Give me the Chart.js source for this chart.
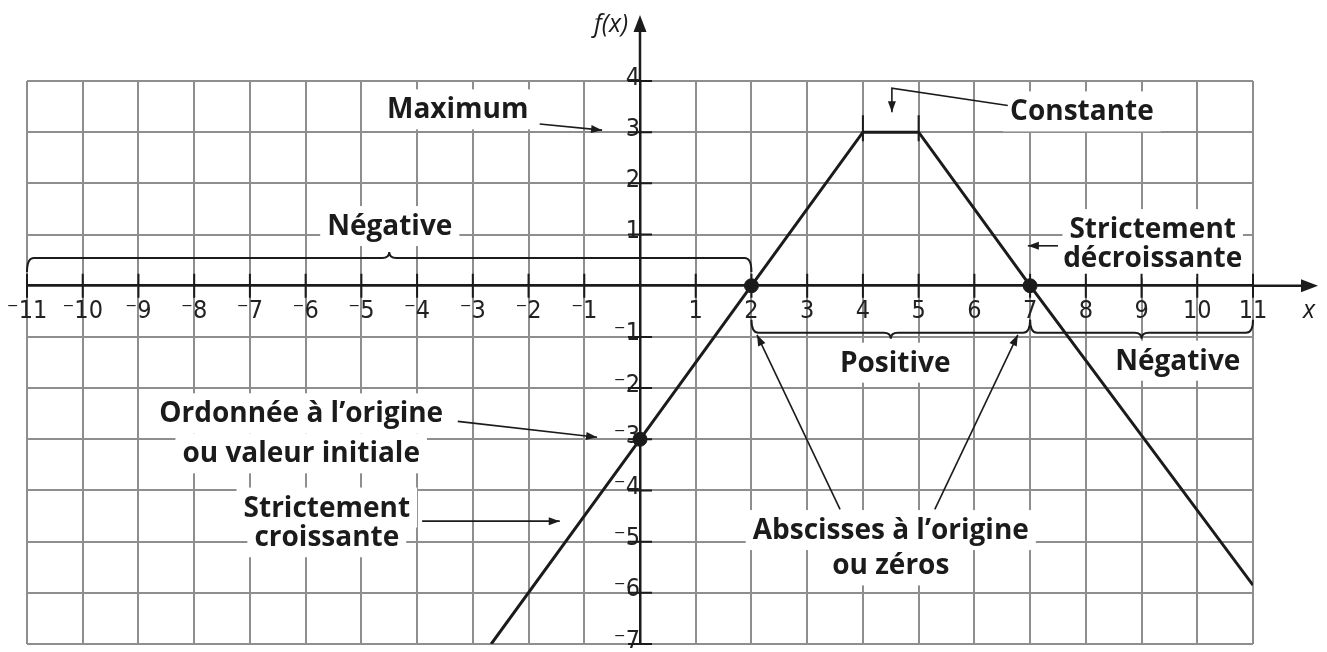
<!DOCTYPE html>
<html lang="fr">
<head>
<meta charset="utf-8">
<title>Propriétés d'une fonction</title>
<script src="https://cdn.jsdelivr.net/npm/chart.js@4.4.1/dist/chart.umd.min.js"></script>
<style>
    html, body { margin: 0; padding: 0; background: #fff; }
    #wrap { position: relative; width: 1327px; height: 652px; }
</style>
</head>
<body>
<div id="wrap"><canvas id="chart"></canvas></div>
<script>
// courbe de f (sommets)
const curveX = [-2.67, 0, 2, 4, 5, 7, 11];
const curveY = [-7, -3, 0, 3, 3, 0, -5.85];

// ordonnée à l'origine et zéros
const markX = [0, 2, 7];
const markY = [-3, 0, 0];

// bornes des axes, graduation de 1 en 1
const xMin = -11;
const xMax = 11;
const yMin = -7;
const yMax = 4;

const ink = "#1b1b1b";
const gridColor = "#8e8e8e";
const tickFamily = "'Liberation Sans Narrow', 'DejaVu Sans Condensed', Roboto, sans-serif";
const noteFont = "bold 28px 'Open Sans', sans-serif";

// étiquettes, placées en coordonnées du graphique (x centre, y ligne de base)
const notes = [
    { lines: ["Maximum"], x: -3.27, y: [3.27] },
    { lines: ["Constante"], x: 7.93, y: [3.23] },
    { lines: ["Négative"], x: -4.49, y: [0.99] },
    { lines: ["Strictement", "décroissante"], x: 9.2, y: [0.93, 0.37] },
    { lines: ["Positive"], x: 4.58, y: [-1.68] },
    { lines: ["Négative"], x: 9.65, y: [-1.64] },
    { lines: ["Ordonnée à l’origine", "ou valeur initiale"], x: -6.08, y: [-2.67, -3.45] },
    { lines: ["Strictement", "croissante"], x: -5.62, y: [-4.51, -5.09] },
    { lines: ["Abscisses à l’origine", "ou zéros"], x: 4.5, y: [-4.95, -5.64] },
];

const arrows = [
    [[-1.80, 3.16], [-0.68, 3.04]],
    [[6.60, 3.52], [4.52, 3.86], [4.52, 3.39]],
    [[7.50, 0.78], [6.96, 0.78]],
    [[-3.27, -2.65], [-0.77, -2.96]],
    [[-3.91, -4.6], [-1.44, -4.6]],
    [[3.59, -4.37], [2.10, -0.96]],
    [[5.29, -4.37], [6.78, -0.96]],
];

// accolades: de, à, pointe, hauteur, sens des crochets (vers l'axe)
const braces = [
    { from: -11, to: 2, mid: -4.5, y: 0.54, hook: 14 },
    { from: 2, to: 7, mid: 4.5, y: -0.92, hook: -13 },
    { from: 7, to: 11, mid: 9, y: -0.92, hook: -13 },
];

function tickLabel(value) {
    if (value === 0) {
        return "";
    }
    return value < 0 ? "\u207B" + Math.abs(value) : String(value);
}

function noPadding(scale) {
    scale.paddingTop = 0;
    scale.paddingBottom = 0;
    scale.paddingLeft = 0;
    scale.paddingRight = 0;
}

function pos(chart, x, y) {
    return [chart.scales.x.getPixelForValue(x), chart.scales.y.getPixelForValue(y)];
}

function arrowHead(ctx, from, to, len, half) {
    const a = Math.atan2(to[1] - from[1], to[0] - from[0]);
    ctx.beginPath();
    ctx.moveTo(to[0], to[1]);
    ctx.lineTo(to[0] - len * Math.cos(a) + half * Math.sin(a), to[1] - len * Math.sin(a) - half * Math.cos(a));
    ctx.lineTo(to[0] - len * Math.cos(a) - half * Math.sin(a), to[1] - len * Math.sin(a) + half * Math.cos(a));
    ctx.closePath();
    ctx.fill();
}

function drawBrace(ctx, x1, x2, xm, yb, hook) {
    const r = 7;
    const peak = 6 * Math.sign(hook);
    ctx.beginPath();
    ctx.moveTo(x1, yb + hook);
    ctx.quadraticCurveTo(x1, yb, x1 + r, yb);
    ctx.lineTo(xm - r, yb);
    ctx.quadraticCurveTo(xm, yb, xm, yb - peak);
    ctx.quadraticCurveTo(xm, yb, xm + r, yb);
    ctx.lineTo(x2 - r, yb);
    ctx.quadraticCurveTo(x2, yb, x2, yb + hook);
    ctx.stroke();
}

const decorations = {
    id: "decorations",
    beforeDatasetsDraw(chart) {
        // fonds blancs qui coupent le quadrillage sous les étiquettes
        const ctx = chart.ctx;
        ctx.save();
        ctx.font = noteFont;
        ctx.fillStyle = "#fff";
        notes.forEach((note) => {
            note.lines.forEach((line, i) => {
                const [cx, base] = pos(chart, note.x, note.y[i]);
                const w = ctx.measureText(line).width;
                ctx.fillRect(cx - w / 2 - 7, base - 29, w + 14, 40);
            });
        });
        ctx.restore();
    },
    afterDraw(chart) {
        const ctx = chart.ctx;
        const area = chart.chartArea;
        const [x0, y0] = pos(chart, 0, 0);
        ctx.save();
        ctx.strokeStyle = ink;
        ctx.fillStyle = ink;

        // prolongement des axes et flèches
        ctx.lineWidth = 2.5;
        ctx.beginPath();
        ctx.moveTo(x0, area.top);
        ctx.lineTo(x0, 22);
        ctx.moveTo(area.right, y0);
        ctx.lineTo(1310, y0);
        ctx.stroke();
        arrowHead(ctx, [x0, 60], [x0, 15], 17, 6.5);
        arrowHead(ctx, [1250, y0], [1318, y0], 17, 6.5);

        // graduations traversant les axes
        ctx.lineWidth = 2;
        ctx.beginPath();
        chart.scales.x.ticks.forEach((t) => {
            if (t.value === 0) return;
            const x = chart.scales.x.getPixelForValue(t.value);
            ctx.moveTo(x, y0 - 12);
            ctx.lineTo(x, y0 + 12);
        });
        chart.scales.y.ticks.forEach((t) => {
            if (t.value === 0) return;
            const y = chart.scales.y.getPixelForValue(t.value);
            ctx.moveTo(x0 - 12, y);
            ctx.lineTo(x0 + 12, y);
        });
        // petits traits aux extrémités du palier
        for (let i = 0; i < curveX.length - 1; i++) {
            if (curveY[i] === curveY[i + 1]) {
                [curveX[i], curveX[i + 1]].forEach((v) => {
                    const [x, y] = pos(chart, v, curveY[i]);
                    ctx.moveTo(x, y - 17);
                    ctx.lineTo(x, y + 9);
                });
            }
        }
        ctx.stroke();

        // accolades
        ctx.lineWidth = 2;
        braces.forEach((b) => {
            const [x1, yb] = pos(chart, b.from, b.y);
            const x2 = chart.scales.x.getPixelForValue(b.to);
            const xm = chart.scales.x.getPixelForValue(b.mid);
            drawBrace(ctx, x1, x2, xm, yb, b.hook);
        });

        // flèches des étiquettes
        ctx.lineWidth = 1.6;
        arrows.forEach((path) => {
            const pts = path.map((p) => pos(chart, p[0], p[1]));
            ctx.beginPath();
            pts.forEach((p, i) => (i ? ctx.lineTo(p[0], p[1]) : ctx.moveTo(p[0], p[1])));
            ctx.stroke();
            arrowHead(ctx, pts[pts.length - 2], pts[pts.length - 1], 11, 4);
        });

        // noms des axes
        ctx.font = "italic 25px 'Open Sans', sans-serif";
        ctx.textBaseline = "middle";
        ctx.textAlign = "right";
        ctx.fillText("f(x)", x0 - 12, 25);
        ctx.textAlign = "center";
        ctx.fillText("x", 1309, 311);

        // étiquettes
        ctx.font = noteFont;
        ctx.textBaseline = "alphabetic";
        notes.forEach((note) => {
            note.lines.forEach((line, i) => {
                const [cx, base] = pos(chart, note.x, note.y[i]);
                ctx.fillText(line, cx, base);
            });
        });
        ctx.restore();
    },
};

const tickFont = { family: tickFamily, size: 25 };

new Chart(document.getElementById("chart"), {
    type: "scatter",
    data: {
        datasets: [
            {
                label: "f(x)",
                data: curveX.map((x, i) => ({ x, y: curveY[i] })),
                showLine: true,
                borderColor: ink,
                borderWidth: 3,
                pointRadius: 0,
            },
            {
                label: "points",
                data: markX.map((x, i) => ({ x, y: markY[i] })),
                backgroundColor: ink,
                borderColor: ink,
                pointRadius: 7,
            },
        ],
    },
    options: {
        responsive: true,
        maintainAspectRatio: false,
        animation: false,
        layout: { padding: { left: 27, right: 74, top: 81, bottom: 7 } },
        plugins: { legend: { display: false }, tooltip: { enabled: false } },
        scales: {
            x: {
                type: "linear",
                min: xMin,
                max: xMax,
                position: { y: 0 },
                grid: { color: gridColor, lineWidth: 2, drawTicks: false },
                border: { color: ink, width: 2.5 },
                ticks: { stepSize: 1, autoSkip: false, maxRotation: 0, padding: 11, color: "#222", font: tickFont, callback: tickLabel },
                afterFit: noPadding,
            },
            y: {
                type: "linear",
                min: yMin,
                max: yMax,
                position: { x: 0 },
                grid: { color: gridColor, lineWidth: 2, drawTicks: false },
                border: { color: ink, width: 2.5 },
                ticks: { stepSize: 1, autoSkip: false, padding: 12, labelOffset: -3, color: "#222", font: tickFont, callback: tickLabel },
                afterFit: noPadding,
            },
        },
    },
    plugins: [decorations],
});
</script>
</body>
</html>
